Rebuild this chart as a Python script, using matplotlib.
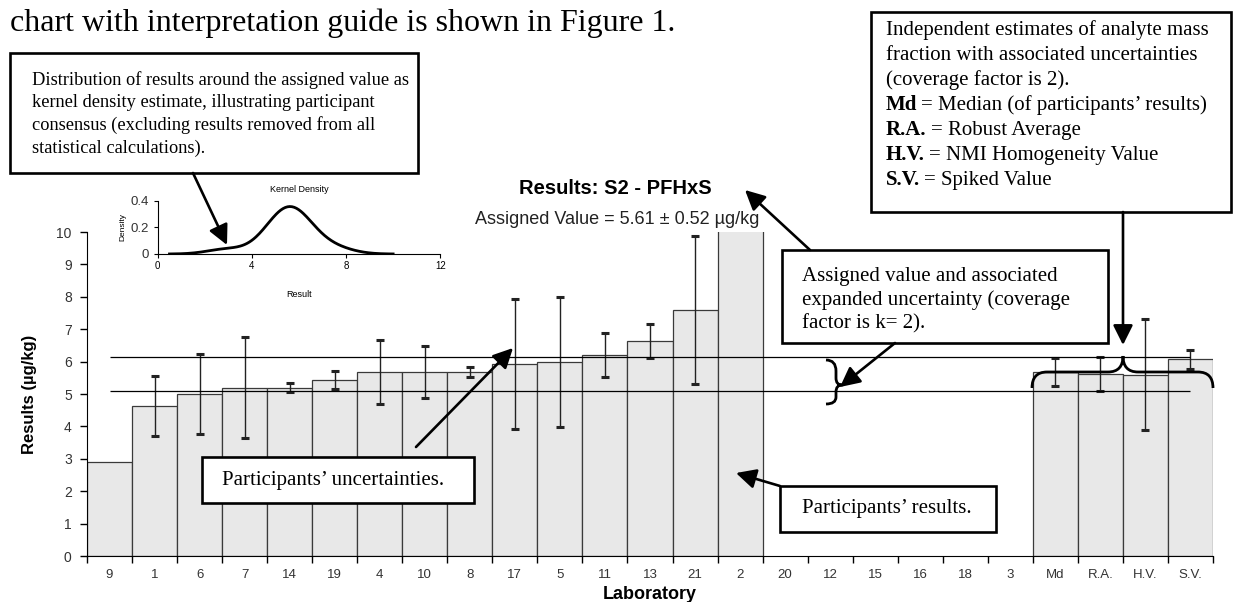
import numpy as np
import matplotlib
matplotlib.use('Agg')
import matplotlib.pyplot as plt
import seaborn as sns
from matplotlib.patches import Rectangle, FancyArrowPatch, PathPatch
from matplotlib.path import Path

W, H = 1237, 602

labs = ['9', '1', '6', '7', '14', '19', '4', '10', '8', '17', '5', '11', '13', '21', '2',
        '20', '12', '15', '16', '18', '3', 'Md', 'R.A.', 'H.V.', 'S.V.']
nan = np.nan
results = [2.9, 4.62, 5.0, 5.2, 5.2, 5.43, 5.68, 5.68, 5.68, 5.93, 5.98, 6.21, 6.63, 7.59, 14.0,
           nan, nan, nan, nan, nan, nan, 5.68, 5.61, 5.6, 6.07]
unc = [nan, 0.93, 1.24, 1.55, 0.13, 0.27, 1.0, 0.8, 0.15, 2.0, 2.0, 0.68, 0.52, 2.29, nan,
       nan, nan, nan, nan, nan, nan, 0.42, 0.52, 1.7, 0.3]
assigned = 5.61
assigned_u = 0.52
# results used for the kernel density (lab 2 removed)
kde_results = results[:14]
kde_bw = 0.8

serif = 'Liberation Serif'
sans = 'Liberation Sans'
plt.rcParams['font.family'] = sans


def P(x, y):
    # pixel position (from top-left) -> figure fraction
    return (x / W, 1 - y / H)


fig = plt.figure(figsize=(W / 100, H / 100), dpi=100)

# ---- main bar chart
ax = fig.add_axes([87 / W, 1 - 556 / H, (1213 - 87) / W, (556 - 232) / H])
xpos = np.arange(len(labs))
ax.bar(xpos, results, width=1.0, color='#e8e8e8', edgecolor='#3a3a3a', linewidth=0.9, zorder=2)
ax.errorbar(xpos, results, yerr=unc, fmt='none', ecolor='#222222', elinewidth=1.0,
            capsize=2.6, capthick=2.2, zorder=3)
ax.hlines([assigned + assigned_u, assigned - assigned_u], 0, len(labs) - 1,
          color='black', linewidth=0.9, zorder=4)
ax.set_xlim(-0.5, len(labs) - 0.5)
ax.set_ylim(0, 10)
ax.set_yticks(range(11))
ax.set_xticks(xpos)
ax.set_xticklabels(labs)
ax.set_xticks(np.arange(len(labs) + 1) - 0.5, minor=True)
ax.tick_params(axis='x', which='major', length=0, pad=9, labelsize=9.5, labelcolor='#333333')
ax.tick_params(axis='x', which='minor', length=5, width=1, direction='out')
ax.tick_params(axis='y', length=5, width=1, pad=6, labelsize=10, labelcolor='#333333')
for s in ['top', 'right']:
    ax.spines[s].set_visible(False)
ax.set_ylabel('Results (µg/kg)', fontsize=12, fontweight='bold', labelpad=14)
ax.set_xlabel('Laboratory', fontsize=13, fontweight='bold', labelpad=4)

fig.text(*P(615, 188), 'Results: S2 - PFHxS', fontsize=14.5, fontweight='bold',
         ha='center', va='center')
fig.text(*P(617, 220), 'Assigned Value = 5.61 ± 0.52 µg/kg', fontsize=13,
         ha='center', va='center', color='#222222')

# ---- kernel density inset
axi = fig.add_axes([157.7 / W, 1 - 254 / H, (440.5 - 157.7) / W, (254 - 200.7) / H])
sns.kdeplot(x=kde_results, bw_method=kde_bw / np.std(kde_results, ddof=1), cut=3,
            ax=axi, color='black', linewidth=2)
axi.set_xlim(0, 12)
axi.set_ylim(0, 0.4)
axi.set_xticks([0, 4, 8, 12])
axi.set_yticks([0, 0.2, 0.4])
axi.set_yticklabels(['0', '0.2', '0.4'])
axi.patch.set_alpha(0)
for s in ['top', 'right']:
    axi.spines[s].set_visible(False)
axi.tick_params(axis='x', labelsize=7, length=3, pad=2)
axi.tick_params(axis='y', labelsize=9.5, length=3, pad=3, labelcolor='#333333')
axi.set_title('Kernel Density', fontsize=6.5, pad=6)
axi.set_xlabel('Result', fontsize=6.5, labelpad=14)
axi.set_ylabel('Density', fontsize=6, labelpad=3)

# ---- annotations
fig.text(*P(10, 31), 'chart with interpretation guide is shown in Figure 1.',
         family=serif, fontsize=23, va='baseline')


def box(x0, y0, x1, y1):
    fig.patches.append(Rectangle(P(x0, y1), (x1 - x0) / W, (y1 - y0) / H,
                                 transform=fig.transFigure, facecolor='white',
                                 edgecolor='black', linewidth=1.9, zorder=5))


def arrow(x0, y0, x1, y1):
    fig.patches.append(FancyArrowPatch(P(x0, y0), P(x1, y1), transform=fig.transFigure,
                                       arrowstyle='-|>,head_length=0.6,head_width=0.3',
                                       mutation_scale=20, color='black', linewidth=1.9,
                                       shrinkA=0, shrinkB=0, zorder=6))


def brace(pts):
    codes = [Path.MOVETO] + [Path.CURVE3, Path.CURVE3, Path.LINETO] * 4
    fig.patches.append(PathPatch(Path([P(*p) for p in pts], codes[:len(pts)]),
                                 transform=fig.transFigure, facecolor='none',
                                 edgecolor='black', linewidth=2.0, zorder=6))


box1_lines = ['Distribution of results around the assigned value as',
              'kernel density estimate, illustrating participant',
              'consensus (excluding results removed from all',
              'statistical calculations).']
box(10, 53, 418, 173)
for i, t in enumerate(box1_lines):
    fig.text(*P(32, 80 + 22.7 * i), t, family=serif, fontsize=13.2, va='center', zorder=7)
arrow(193, 173, 227, 245)

box2_lines = [('', 'Independent estimates of analyte mass'),
              ('', 'fraction with associated uncertainties'),
              ('', '(coverage factor is 2).'),
              ('Md', '= Median (of participants\u2019 results)'),
              ('R.A.', '= Robust Average'),
              ('H.V.', '= NMI Homogeneity Value'),
              ('S.V.', '= Spiked Value')]
box(871, 12, 1231, 212)
renderer = fig.canvas.get_renderer()
for i, (b, t) in enumerate(box2_lines):
    y = 35 + 25 * i
    x = 886
    if b:
        tb = fig.text(*P(x, y), b, family=serif, fontsize=15, fontweight='bold',
                      va='baseline', zorder=7)
        x = tb.get_window_extent(renderer).x1 + 4
    fig.text(*P(x, y), t, family=serif, fontsize=15, va='baseline', zorder=7)
arrow(1123, 212, 1123, 345)

box3_lines = ['Assigned value and associated',
              'expanded uncertainty (coverage',
              'factor is k= 2).']
box(782, 250, 1108, 343)
for i, t in enumerate(box3_lines):
    fig.text(*P(802, 276 + 24 * i), t, family=serif, fontsize=15, va='center', zorder=7)
arrow(810, 250, 745, 190)
arrow(895, 343, 840, 387)

box(202, 457, 474, 503)
fig.text(*P(222, 480), 'Participants\u2019 uncertainties.', family=serif, fontsize=15,
         va='center', zorder=7)
arrow(416, 447, 513, 348)

box(780, 486, 996, 532)
fig.text(*P(802, 509), 'Participants\u2019 results.', family=serif, fontsize=15,
         va='center', zorder=7)
arrow(780, 486, 736, 473)

# horizontal brace over Md .. S.V.
brace([(1032, 388), (1032, 372), (1047, 372), (1108, 372),
       (1123, 372), (1123, 356), (1123, 356), (1123, 372), (1138, 372),
       (1198, 372), (1213, 372), (1213, 388)])
# small vertical brace next to the assigned value lines
brace([(826, 360), (836, 360), (836, 371), (836, 378),
       (836, 385), (842, 385), (842, 385), (836, 385), (836, 392),
       (836, 397), (836, 404), (826, 404)])

fig.savefig('out.png', dpi=100)
